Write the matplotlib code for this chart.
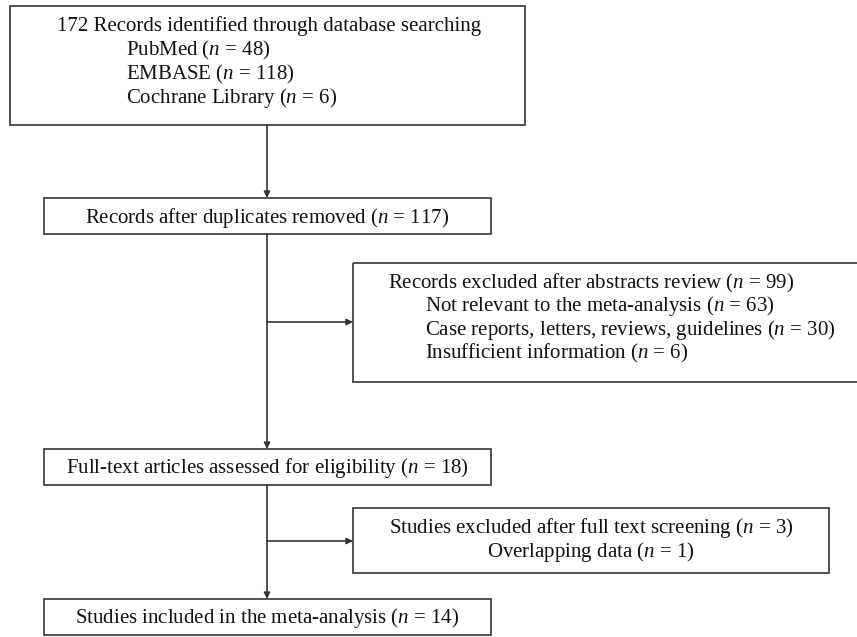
import matplotlib
matplotlib.use("Agg")
import matplotlib.pyplot as plt
from matplotlib.patches import Rectangle

plt.rcParams['font.family'] = ['Liberation Serif', 'DejaVu Serif']
plt.rcParams['mathtext.fontset'] = 'custom'
plt.rcParams['mathtext.rm'] = 'Liberation Serif'
plt.rcParams['mathtext.it'] = 'Liberation Serif:italic'

# ---- data (flow counts and labels) ----
identified_total = 172
sources = ["PubMed", "EMBASE", "Cochrane Library"]
source_counts = [48, 118, 6]
after_duplicates = 117
abstract_excluded = 99
abstract_reasons = ["Not relevant to the meta-analysis",
                    "Case reports, letters, reviews, guidelines",
                    "Insufficient information"]
abstract_reason_counts = [63, 30, 6]
fulltext_assessed = 18
fulltext_excluded = 3
fulltext_reasons = ["Overlapping data"]
fulltext_reason_counts = [1]
included = 14

def nlab(label, n):
    return f"{label} ($n$ = {n})"

W, H = 857, 637
fig = plt.figure(figsize=(W / 100, H / 100), dpi=100)
ax = fig.add_axes([0, 0, 1, 1])
ax.set_xlim(0, W)
ax.set_ylim(H, 0)
ax.axis('off')

EC = '#333333'
LW = 1.2
FS = 15.0
DY = 1.5

def box(x0, y0, x1, y1):
    ax.add_patch(Rectangle((x0, y0), x1 - x0, y1 - y0, fill=False,
                           edgecolor=EC, linewidth=LW, clip_on=False))

def arrow(x0, y0, x1, y1):
    ax.annotate('', xy=(x1, y1), xytext=(x0, y0),
                arrowprops=dict(arrowstyle='-|>', color=EC, lw=LW,
                                mutation_scale=9, shrinkA=0, shrinkB=0))

def txt(x, y, s, ha='left'):
    ax.text(x, y + DY, s, ha=ha, va='center', fontsize=FS, color='#111111')

cx = 267

# Box 1
box(10, 6, 525, 125)
txt(cx + 2, 25, f"{identified_total} Records identified through database searching", ha='center')
for i, (s, n) in enumerate(zip(sources, source_counts)):
    txt(126, 49 + i * 23.7, nlab(s, n))

# Box 2
box(44, 198, 491, 234)
txt(cx, 216, nlab("Records after duplicates removed", after_duplicates), ha='center')

# Box 3 (abstract exclusions), extends past right edge
box(353, 263, 870, 382)
txt(388, 282, nlab("Records excluded after abstracts review", abstract_excluded))
for i, (s, n) in enumerate(zip(abstract_reasons, abstract_reason_counts)):
    txt(425, 305 + i * 23.3, nlab(s, n))

# Box 4
box(44, 449, 491, 485)
txt(cx, 467, nlab("Full-text articles assessed for eligibility", fulltext_assessed), ha='center')

# Box 5
box(353, 508, 829, 573)
txt(591, 527, nlab("Studies excluded after full text screening", fulltext_excluded), ha='center')
for i, (s, n) in enumerate(zip(fulltext_reasons, fulltext_reason_counts)):
    txt(591, 550 + i * 23, nlab(s, n), ha='center')

# Box 6
box(44, 599, 491, 635)
txt(cx, 617, nlab("Studies included in the meta-analysis", included), ha='center')

# Connectors
arrow(cx, 125, cx, 198)
arrow(cx, 234, cx, 449)
arrow(cx, 322, 353, 322)
arrow(cx, 485, cx, 599)
arrow(cx, 541, 353, 541)

fig.savefig('out.png', dpi=100, facecolor='white')
